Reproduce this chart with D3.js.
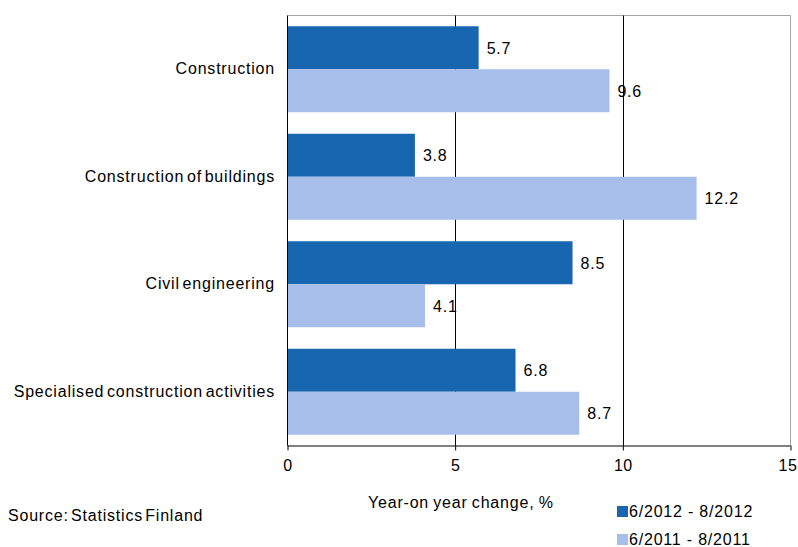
<!DOCTYPE html>
<html><head><meta charset="utf-8">
<script src="https://cdn.jsdelivr.net/npm/d3@7"></script>
<style>
body{margin:0;background:#fff;}
text{font-family:"Liberation Sans",Arial,sans-serif;fill:#000;}
</style></head>
<body><svg id="c" width="798" height="547"></svg>
<script>
const categories = ["Construction","Construction of buildings","Civil engineering","Specialised construction activities"];
const seriesNames = ["6/2012 - 8/2012","6/2011 - 8/2011"];
const values2012 = [5.7, 3.8, 8.5, 6.8];
const values2011 = [9.6, 12.2, 4.1, 8.7];
const xTicks = [0, 5, 10, 15];
const colors = ["#1866B0", "#A8BEEA"];
const axisTitle = "Year-on year change, %";
const sourceText = "Source: Statistics Finland";

const svg = d3.select("#c");
const L = 287.5, R = 790.5, T = 15.5, B = 445.5;
const x = d3.scaleLinear().domain([0, 15]).range([L, R]);
const y = d3.scaleBand().domain(categories).range([T, B]).paddingInner(0.2).paddingOuter(0.1);
const ys = d3.scaleBand().domain([0, 1]).range([0, y.bandwidth()]);
const fs = "16px", ls = "0.8px";

// plot border top/right (gray)
svg.append("line").attr("x1", L).attr("x2", R).attr("y1", T).attr("y2", T).attr("stroke", "#a6a6a6");
svg.append("line").attr("x1", R).attr("x2", R).attr("y1", T).attr("y2", B).attr("stroke", "#a6a6a6");

// gridlines
svg.selectAll(".grid").data(xTicks.filter(d => d > 0 && d < 15)).enter().append("line")
  .attr("x1", d => Math.round(x(d)) + 0.5).attr("x2", d => Math.round(x(d)) + 0.5)
  .attr("y1", T).attr("y2", B).attr("stroke", "#000");

const series = [values2012, values2011];
const rows = [];
categories.forEach((c, i) => series.forEach((s, j) => rows.push({c, j, v: s[i]})));

svg.selectAll(".bar").data(rows).enter().append("rect")
  .attr("x", x(0)).attr("y", d => y(d.c) + ys(d.j))
  .attr("width", d => x(d.v) - x(0)).attr("height", ys.bandwidth())
  .attr("fill", d => colors[d.j]);

svg.selectAll(".val").data(rows).enter().append("text")
  .attr("x", d => x(d.v) + 8).attr("y", d => y(d.c) + ys(d.j) + ys.bandwidth() / 2 + 2)
  .attr("dominant-baseline", "middle").style("font-size", fs).style("letter-spacing", ls)
  .text(d => d.v.toFixed(1));

// category labels
svg.selectAll(".cat").data(categories).enter().append("text")
  .attr("x", 275).attr("y", d => y(d) + y.bandwidth() / 2 + 1)
  .attr("text-anchor", "end").attr("dominant-baseline", "middle")
  .style("font-size", fs).style("letter-spacing", ls).style("word-spacing", "-2.5px")
  .text(d => d);

// axes
svg.append("line").attr("x1", L).attr("x2", L).attr("y1", T).attr("y2", B).attr("stroke", "#000");
const xAxis = svg.append("g").attr("transform", `translate(0,${B})`)
  .call(d3.axisBottom(x).tickValues(xTicks).tickSize(5).tickPadding(9).tickFormat(d3.format("d")));
xAxis.select(".domain").attr("stroke", "#000").attr("d", `M${L},0.5H${R}`);
xAxis.selectAll("line").attr("stroke", "#000");
xAxis.selectAll("text").style("font-size", fs).style("letter-spacing", "0.5px").attr("fill", "#000")
  .style("font-family", '"Liberation Sans",Arial,sans-serif')
  .attr("dx", d => d === 15 ? "-3px" : null);

svg.append("text").attr("x", 368).attr("y", 508).style("font-size", fs).style("letter-spacing", ls)
  .style("word-spacing", "-1px").text(axisTitle);
svg.append("text").attr("x", 8).attr("y", 521).style("font-size", fs).style("letter-spacing", ls)
  .style("word-spacing", "-3px").text(sourceText);

// legend
const lg = svg.selectAll(".lg").data(seriesNames).enter().append("g")
  .attr("transform", (d, i) => `translate(617,${506 + i * 28})`);
lg.append("rect").attr("width", 11).attr("height", 11).attr("fill", (d, i) => colors[i]);
lg.append("text").attr("x", 12).attr("y", 11).style("font-size", fs).style("letter-spacing", ls).text(d => d);
</script></body></html>
